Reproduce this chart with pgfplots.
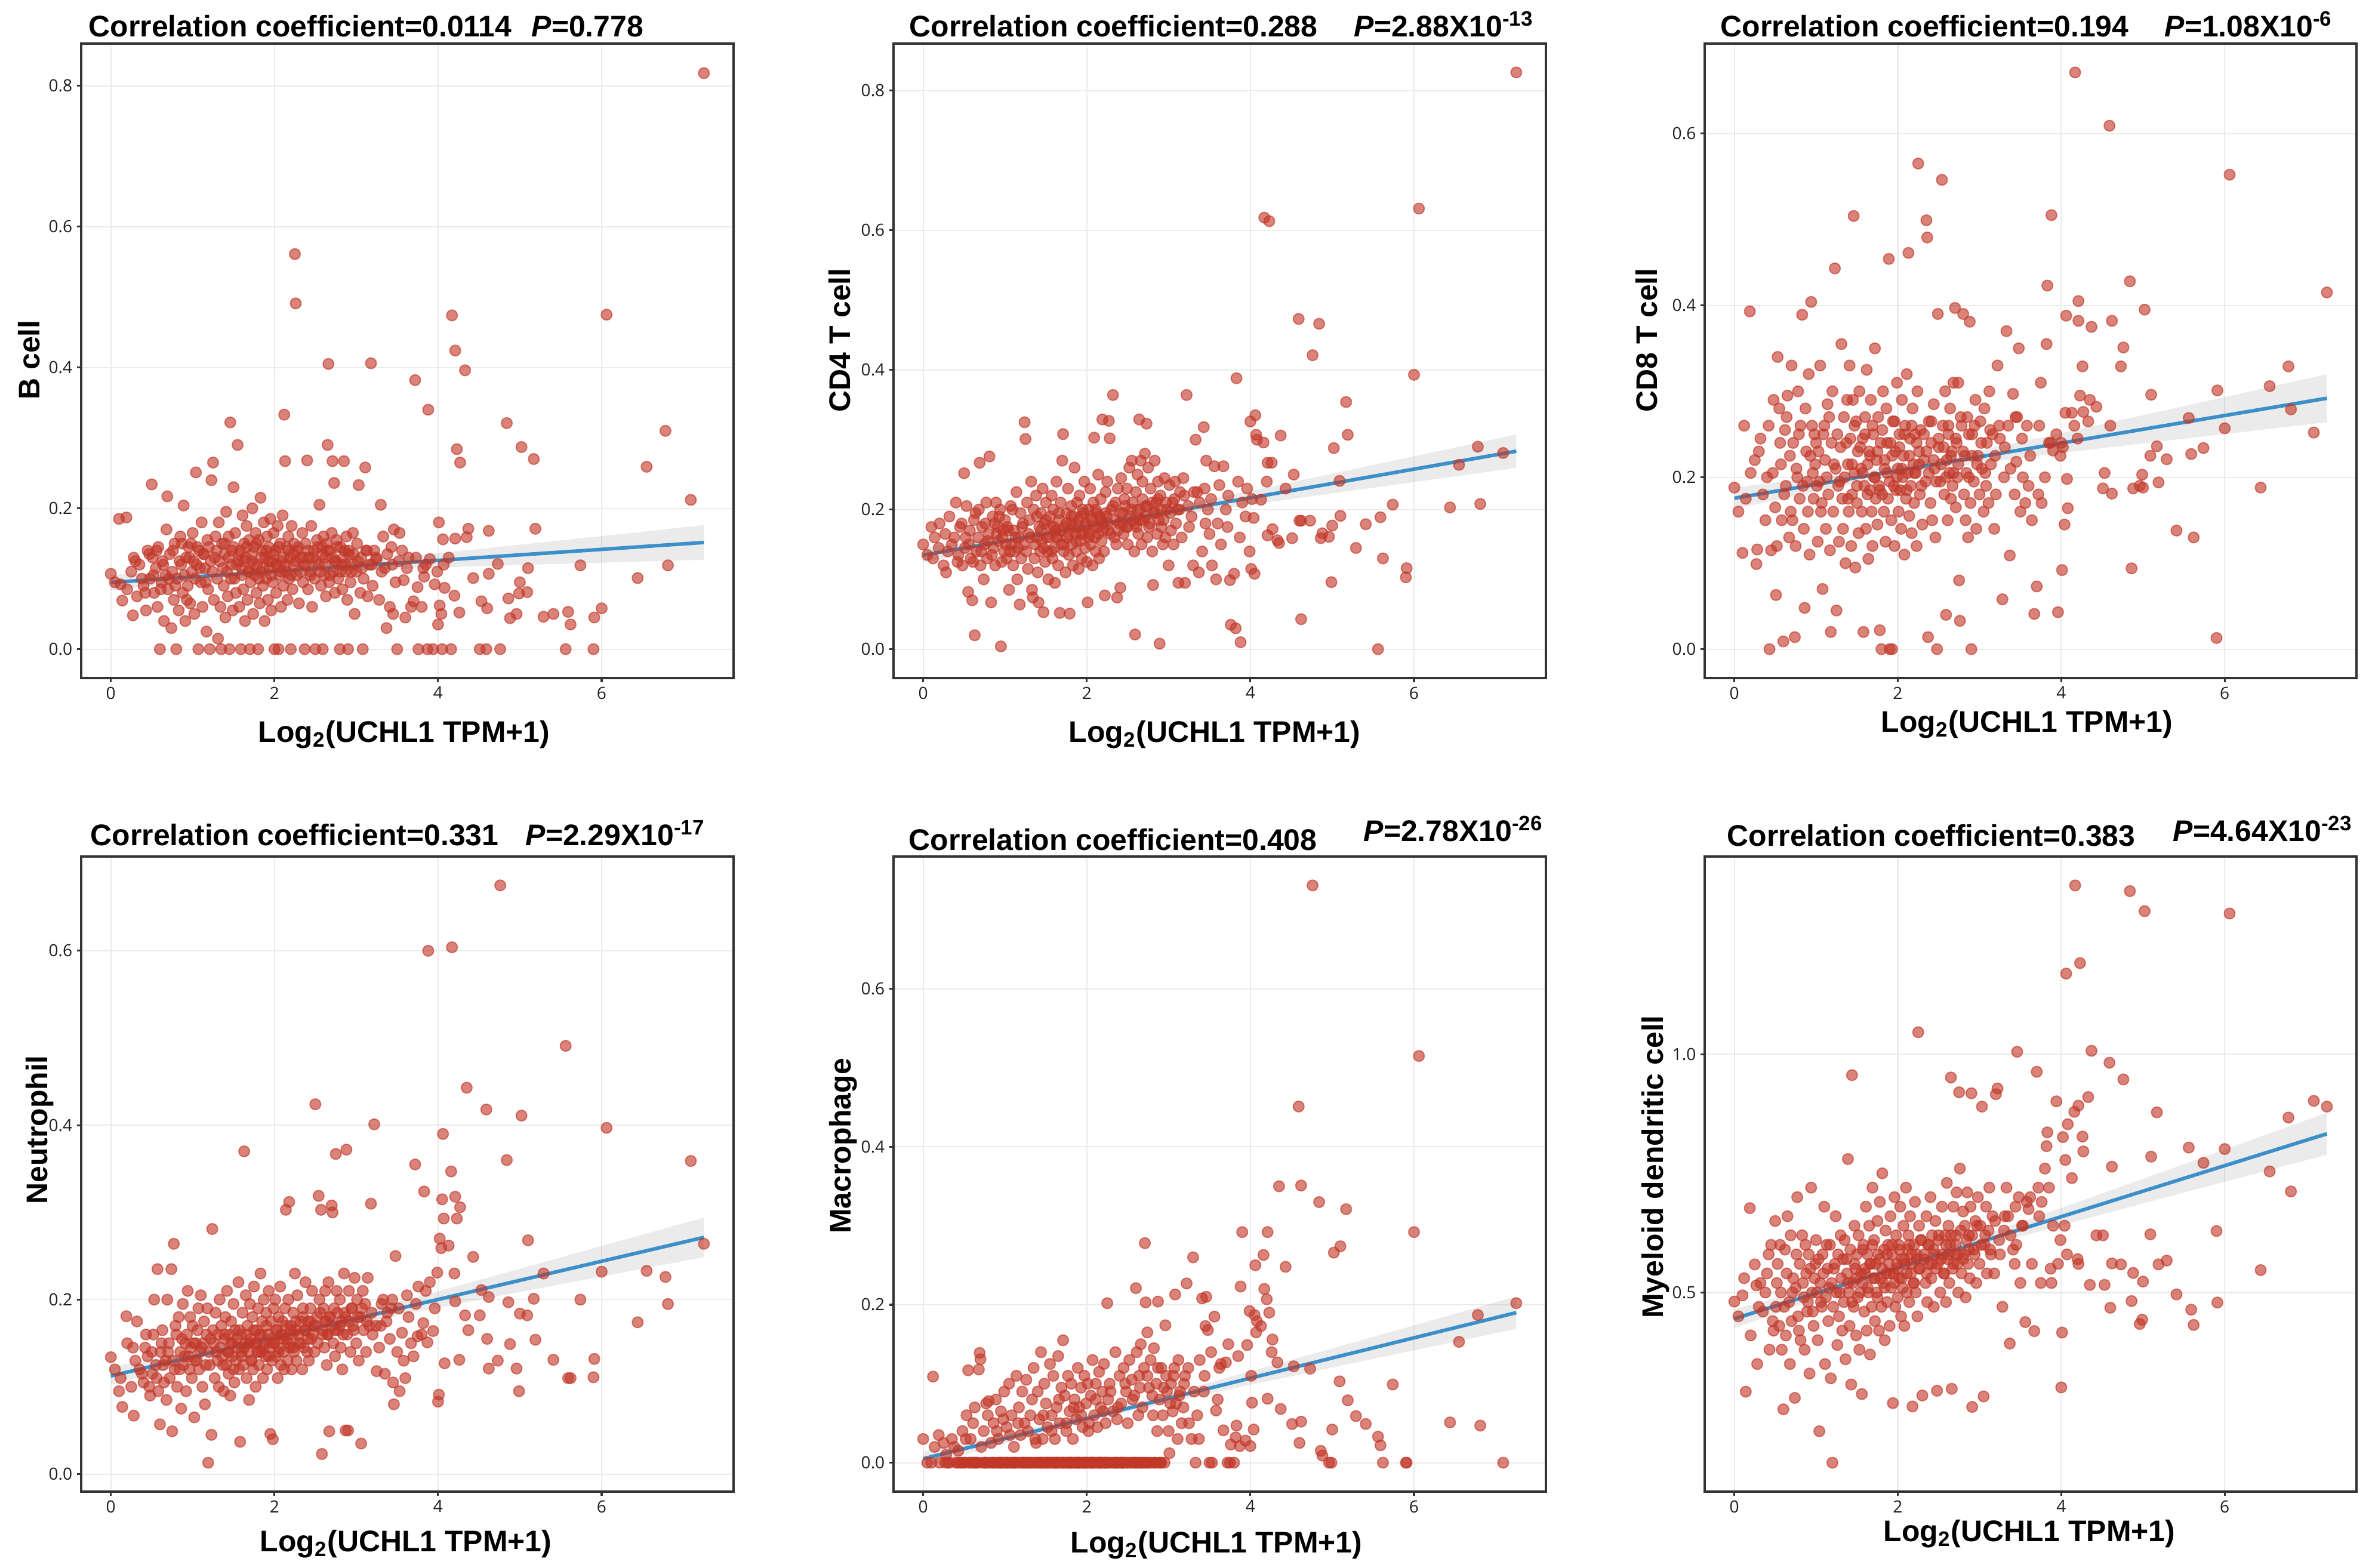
\documentclass[border=0pt]{standalone}
\usepackage{fontspec}
\setmainfont{Liberation Sans}
\newfontfamily\tickfont{Open Sans}
\usepackage{pgfplots}
\usepackage{pgfplotstable}
\pgfplotsset{compat=1.18}
\definecolor{pt}{RGB}{193,55,40}
\definecolor{ln}{RGB}{60,143,200}
\definecolor{gr92}{RGB}{235,235,235}
\definecolor{gr20}{RGB}{51,51,51}
\newcommand\ttl{\fontsize{14.2}{17}\selectfont\bfseries}

\pgfplotstableread{
x b c4 c8 ne ma dc
7.25 0.818 0.826 0.415 0.264 0.202 0.890
7.09 0.212 0.281 0.252 0.359 0.000 0.902
6.81 0.119 0.208 0.279 0.195 0.047 0.712
6.78 0.310 0.290 0.329 0.226 0.187 0.867
6.55 0.259 0.264 0.306 0.233 0.153 0.754
6.44 0.101 0.203 0.188 0.174 0.051 0.547
6.06 0.475 0.631 0.552 0.397 0.515 1.295
6.00 0.058 0.393 0.257 0.232 0.292 0.801
5.91 0.045 0.116 0.301 0.132 0.000 0.479
5.90 0.000 0.103 0.013 0.111 0.000 0.629
5.74 0.119 0.207 0.234 0.200 0.099 0.772
5.62 0.035 0.130 0.130 0.110 0.000 0.432
5.59 0.053 0.189 0.227 0.110 0.022 0.464
5.56 0.000 0.000 0.269 0.491 0.033 0.804
5.41 0.050 0.179 0.138 0.131 0.049 0.496
5.29 0.046 0.145 0.221 0.230 0.059 0.567
5.19 0.171 0.307 0.194 0.154 0.079 0.559
5.17 0.270 0.354 0.236 0.201 0.321 0.878
5.10 0.115 0.191 0.296 0.268 0.274 0.785
5.09 0.081 0.241 0.225 0.182 0.103 0.622
5.02 0.287 0.288 0.395 0.411 0.266 1.300
5.00 0.095 0.177 0.188 0.184 0.042 0.523
4.99 0.079 0.096 0.203 0.095 0.000 0.443
4.96 0.050 0.161 0.190 0.121 0.000 0.434
4.88 0.044 0.166 0.187 0.149 0.009 0.541
4.86 0.072 0.159 0.094 0.197 0.015 0.482
4.84 0.321 0.466 0.428 0.360 0.330 1.342
4.76 0.000 0.421 0.351 0.675 0.731 0.947
4.73 0.121 0.184 0.329 0.130 0.119 0.559
4.62 0.168 0.184 0.382 0.203 0.351 0.764
4.62 0.107 0.043 0.181 0.121 0.052 0.561
4.60 0.058 0.184 0.260 0.155 0.025 0.468
4.59 0.000 0.473 0.609 0.418 0.451 0.982
4.53 0.068 0.250 0.205 0.211 0.122 0.516
4.51 0.000 0.159 0.187 0.182 0.049 0.620
4.43 0.101 0.230 0.282 0.249 0.248 0.620
4.37 0.171 0.306 0.375 0.165 0.068 1.007
4.35 0.159 0.152 0.290 0.443 0.350 0.516
4.33 0.396 0.156 0.265 0.182 0.127 0.910
4.27 0.265 0.172 0.276 0.306 0.156 0.796
4.26 0.052 0.267 0.329 0.131 0.140 0.827
4.23 0.284 0.613 0.295 0.293 0.190 1.191
4.21 0.424 0.267 0.405 0.318 0.292 0.892
4.21 0.157 0.163 0.382 0.198 0.081 0.560
4.20 0.076 0.240 0.245 0.230 0.207 0.570
4.17 0.474 0.618 0.671 0.604 0.220 1.354
4.16 0.000 0.296 0.260 0.347 0.263 0.879
4.13 0.130 0.214 0.275 0.262 0.173 0.740
4.08 0.087 0.300 0.164 0.127 0.179 0.853
4.07 0.120 0.307 0.198 0.293 0.165 0.580
4.06 0.156 0.335 0.388 0.390 0.250 1.169
4.05 0.000 0.108 0.275 0.315 0.187 0.778
4.04 0.050 0.188 0.145 0.259 0.042 0.640
4.02 0.062 0.215 0.235 0.270 0.076 0.826
4.01 0.180 0.115 0.092 0.091 0.110 0.416
4.00 0.035 0.326 0.240 0.083 0.021 0.301
3.99 0.110 0.140 0.225 0.231 0.192 0.610
3.96 0.092 0.230 0.043 0.190 0.149 0.560
3.94 0.000 0.190 0.250 0.164 0.028 0.901
3.90 0.128 0.210 0.231 0.220 0.292 0.640
3.88 0.340 0.010 0.505 0.600 0.223 0.520
3.87 0.000 0.160 0.240 0.151 0.021 0.550
3.83 0.103 0.388 0.423 0.324 0.047 0.836
3.82 0.115 0.030 0.355 0.173 0.032 0.807
3.80 0.060 0.108 0.200 0.160 0.000 0.760
3.76 0.000 0.035 0.170 0.215 0.023 0.690
3.75 0.088 0.099 0.310 0.158 0.000 0.520
3.72 0.382 0.175 0.180 0.355 0.000 0.720
3.70 0.068 0.200 0.073 0.135 0.127 0.963
3.67 0.060 0.262 0.041 0.150 0.041 0.419
3.64 0.130 0.150 0.150 0.180 0.125 0.560
3.60 0.045 0.180 0.190 0.110 0.080 0.675
3.58 0.098 0.100 0.260 0.130 0.066 0.690
3.56 0.140 0.262 0.170 0.162 0.185 0.438
3.53 0.165 0.120 0.200 0.095 0.000 0.640
3.50 0.000 0.165 0.160 0.140 0.000 0.520
3.48 0.095 0.200 0.350 0.250 0.168 0.700
3.46 0.170 0.270 0.270 0.080 0.210 1.005
3.45 0.050 0.180 0.218 0.105 0.173 0.600
3.43 0.145 0.318 0.180 0.190 0.090 0.560
3.41 0.060 0.140 0.297 0.155 0.208 0.590
3.37 0.030 0.110 0.109 0.175 0.030 0.393
3.35 0.115 0.225 0.260 0.115 0.060 0.660
3.33 0.160 0.300 0.370 0.200 0.000 0.720
3.30 0.205 0.120 0.200 0.170 0.260 0.630
3.28 0.070 0.190 0.058 0.145 0.030 0.470
3.25 0.128 0.175 0.245 0.118 0.050 0.580
3.22 0.140 0.364 0.330 0.401 0.227 0.928
3.20 0.090 0.095 0.180 0.160 0.110 0.916
3.18 0.406 0.245 0.140 0.310 0.070 0.540
0.00 0.107 0.150 0.188 0.134 0.030 0.481
0.05 0.095 0.135 0.160 0.120 0.000 0.450
0.10 0.185 0.175 0.112 0.095 0.000 0.494
0.12 0.092 0.130 0.260 0.110 0.109 0.530
0.14 0.069 0.160 0.175 0.077 0.020 0.292
0.19 0.187 0.145 0.393 0.181 0.035 0.677
0.20 0.085 0.180 0.205 0.150 0.000 0.410
0.25 0.110 0.120 0.220 0.100 0.025 0.559
0.27 0.048 0.165 0.099 0.145 0.000 0.515
0.28 0.130 0.110 0.116 0.067 0.010 0.350
0.32 0.075 0.190 0.245 0.175 0.000 0.520
0.35 0.120 0.150 0.180 0.120 0.030 0.460
0.40 0.090 0.210 0.200 0.105 0.000 0.540
0.43 0.055 0.135 0.000 0.160 0.015 0.380
0.45 0.140 0.175 0.115 0.135 0.000 0.600
0.48 0.100 0.120 0.290 0.090 0.040 0.420
0.50 0.234 0.252 0.165 0.140 0.000 0.650
0.51 0.130 0.145 0.063 0.115 0.000 0.470
0.53 0.080 0.205 0.340 0.200 0.060 0.560
0.55 0.115 0.082 0.280 0.125 0.117 0.430
0.57 0.060 0.170 0.215 0.235 0.000 0.500
0.58 0.145 0.130 0.150 0.095 0.030 0.380
0.60 0.000 0.070 0.009 0.057 0.000 0.255
0.62 0.095 0.185 0.255 0.150 0.000 0.590
0.63 0.125 0.020 0.190 0.165 0.070 0.410
0.65 0.040 0.140 0.295 0.105 0.000 0.660
0.67 0.105 0.160 0.130 0.130 0.000 0.480
0.68 0.170 0.200 0.225 0.085 0.118 0.350
0.69 0.217 0.267 0.160 0.200 0.139 0.620
0.70 0.085 0.120 0.330 0.140 0.131 0.440
0.72 0.135 0.175 0.240 0.110 0.000 0.530
0.74 0.030 0.100 0.014 0.235 0.040 0.279
0.75 0.110 0.150 0.120 0.049 0.000 0.510
0.77 0.070 0.210 0.200 0.264 0.075 0.700
0.78 0.150 0.130 0.300 0.120 0.000 0.450
0.80 0.000 0.165 0.175 0.160 0.078 0.560
0.81 0.100 0.276 0.260 0.100 0.000 0.400
0.83 0.055 0.067 0.389 0.180 0.025 0.620
0.85 0.160 0.190 0.140 0.140 0.000 0.490
0.86 0.120 0.145 0.048 0.075 0.050 0.380
0.88 0.080 0.120 0.230 0.195 0.000 0.540
0.89 0.204 0.210 0.195 0.125 0.080 0.460
0.91 0.040 0.175 0.320 0.150 0.000 0.580
0.92 0.130 0.155 0.110 0.095 0.030 0.330
0.94 0.090 0.200 0.404 0.210 0.000 0.720
0.95 0.145 0.004 0.260 0.135 0.065 0.500
0.97 0.065 0.160 0.175 0.180 0.000 0.430
0.99 0.110 0.140 0.215 0.110 0.090 0.560
1.00 0.165 0.185 0.240 0.170 0.000 0.610
1.02 0.050 0.130 0.125 0.065 0.045 0.400
1.04 0.251 0.170 0.195 0.150 0.000 0.209
1.05 0.120 0.085 0.330 0.130 0.100 0.520
1.07 0.000 0.205 0.170 0.190 0.000 0.470
1.08 0.140 0.150 0.070 0.120 0.060 0.580
1.10 0.095 0.120 0.260 0.205 0.000 0.680
1.11 0.180 0.170 0.220 0.145 0.020 0.350
1.12 0.060 0.140 0.140 0.100 0.000 0.490
1.14 0.135 0.225 0.285 0.175 0.110 0.550
1.15 0.115 0.100 0.180 0.080 0.000 0.440
1.17 0.025 0.160 0.115 0.160 0.070 0.600
1.18 0.155 0.064 0.020 0.190 0.000 0.320
1.19 0.085 0.195 0.240 0.013 0.035 0.520
1.20 0.145 0.130 0.300 0.140 0.000 0.143
1.21 0.000 0.175 0.160 0.125 0.090 0.470
1.23 0.240 0.150 0.443 0.045 0.000 0.560
1.24 0.110 0.325 0.210 0.281 0.050 0.660
1.25 0.265 0.301 0.045 0.165 0.000 0.500
1.26 0.070 0.140 0.250 0.150 0.105 0.390
1.27 0.130 0.210 0.190 0.110 0.000 0.580
1.28 0.160 0.115 0.125 0.185 0.040 0.450
1.30 0.100 0.185 0.235 0.130 0.000 0.620
1.31 0.015 0.160 0.355 0.160 0.060 0.530
1.32 0.180 0.240 0.175 0.100 0.000 0.420
1.33 0.125 0.085 0.140 0.200 0.080 0.570
1.34 0.060 0.074 0.270 0.145 0.000 0.480
1.35 0.000 0.200 0.200 0.170 0.120 0.610
1.36 0.150 0.130 0.100 0.135 0.000 0.360
1.38 0.090 0.220 0.290 0.095 0.025 0.540
1.39 0.135 0.160 0.215 0.155 0.000 0.780
1.40 0.045 0.110 0.160 0.180 0.090 0.500
1.41 0.195 0.067 0.330 0.125 0.000 0.430
1.42 0.110 0.175 0.245 0.210 0.055 0.590
1.43 0.075 0.140 0.120 0.140 0.000 0.307
1.44 0.160 0.195 0.180 0.115 0.140 0.956
1.45 0.000 0.155 0.290 0.160 0.000 0.520
1.46 0.322 0.230 0.504 0.090 0.030 0.470
1.47 0.120 0.053 0.205 0.175 0.000 0.640
1.48 0.140 0.180 0.095 0.135 0.100 0.550
1.49 0.055 0.125 0.265 0.150 0.000 0.410
1.50 0.230 0.210 0.170 0.195 0.075 0.580
1.51 0.100 0.160 0.230 0.105 0.000 0.490
1.52 0.165 0.140 0.135 0.165 0.045 0.620
1.53 0.080 0.100 0.300 0.130 0.000 0.380
1.55 0.290 0.190 0.210 0.145 0.125 0.540
1.56 0.125 0.175 0.160 0.220 0.000 0.287
1.57 0.060 0.220 0.245 0.120 0.060 0.520
1.58 0.140 0.130 0.020 0.037 0.000 0.600
1.59 0.000 0.200 0.190 0.160 0.110 0.460
1.60 0.115 0.145 0.270 0.140 0.000 0.550
1.61 0.190 0.095 0.140 0.185 0.030 0.680
1.62 0.085 0.170 0.325 0.125 0.000 0.420
1.63 0.150 0.240 0.215 0.370 0.070 0.580
1.64 0.040 0.160 0.105 0.150 0.000 0.500
1.65 0.130 0.120 0.230 0.205 0.135 0.640
1.66 0.175 0.185 0.185 0.110 0.000 0.370
1.67 0.070 0.052 0.290 0.170 0.050 0.560
1.68 0.110 0.210 0.160 0.140 0.000 0.470
1.69 0.155 0.150 0.120 0.085 0.095 0.720
1.70 0.000 0.270 0.250 0.195 0.000 0.530
1.71 0.095 0.308 0.200 0.155 0.155 0.610
1.72 0.125 0.140 0.350 0.130 0.000 0.440
1.73 0.200 0.175 0.175 0.180 0.085 0.560
1.74 0.050 0.110 0.220 0.120 0.000 0.500
1.75 0.145 0.195 0.145 0.215 0.040 0.650
1.76 0.105 0.160 0.270 0.150 0.000 0.580
1.77 0.165 0.230 0.190 0.100 0.110 0.420
1.78 0.080 0.135 0.022 0.165 0.000 0.690
1.79 0.120 0.051 0.240 0.140 0.065 0.530
1.80 0.000 0.180 0.000 0.190 0.000 0.470
1.81 0.155 0.205 0.180 0.125 0.100 0.750
1.82 0.065 0.150 0.300 0.160 0.000 0.520
1.83 0.215 0.120 0.160 0.230 0.030 0.590
1.84 0.110 0.190 0.220 0.140 0.000 0.400
1.85 0.140 0.260 0.125 0.175 0.080 0.630
1.86 0.090 0.165 0.280 0.110 0.000 0.540
1.87 0.180 0.140 0.205 0.200 0.055 0.480
1.88 0.040 0.210 0.175 0.150 0.000 0.600
1.89 0.130 0.175 0.454 0.135 0.120 0.560
1.90 0.100 0.115 0.000 0.185 0.000 0.430
1.91 0.160 0.220 0.240 0.120 0.070 0.660
1.92 0.070 0.155 0.150 0.160 0.000 0.510
1.93 0.145 0.190 0.000 0.210 0.095 0.580
1.94 0.115 0.130 0.265 0.145 0.000 0.268
1.95 0.185 0.200 0.190 0.046 0.045 0.540
1.96 0.055 0.165 0.120 0.175 0.000 0.700
1.97 0.125 0.240 0.230 0.130 0.110 0.470
1.98 0.095 0.145 0.185 0.040 0.000 0.620
1.99 0.165 0.180 0.310 0.190 0.075 0.550
2.00 0.000 0.125 0.210 0.150 0.000 0.490
2.01 0.140 0.067 0.160 0.200 0.100 0.600
2.02 0.080 0.200 0.250 0.135 0.000 0.530
2.03 0.120 0.165 0.185 0.165 0.050 0.680
2.04 0.175 0.230 0.140 0.110 0.000 0.450
2.05 0.000 0.150 0.290 0.180 0.085 0.570
2.06 0.105 0.185 0.200 0.145 0.000 0.510
2.07 0.150 0.120 0.225 0.215 0.130 0.640
2.08 0.060 0.210 0.110 0.125 0.000 0.430
2.09 0.125 0.303 0.260 0.160 0.060 0.560
2.10 0.190 0.160 0.175 0.175 0.000 0.720
2.11 0.090 0.140 0.320 0.140 0.100 0.500
2.12 0.333 0.195 0.205 0.120 0.000 0.590
2.13 0.267 0.175 0.461 0.190 0.045 0.620
2.14 0.110 0.250 0.155 0.303 0.000 0.480
2.15 0.145 0.130 0.245 0.155 0.115 0.660
2.16 0.070 0.190 0.190 0.130 0.000 0.540
2.17 0.160 0.215 0.135 0.200 0.070 0.580
2.18 0.100 0.155 0.280 0.312 0.000 0.261
2.19 0.130 0.329 0.215 0.145 0.090 0.520
2.20 0.000 0.180 0.170 0.170 0.000 0.600
2.21 0.175 0.140 0.250 0.120 0.125 0.690
2.22 0.085 0.077 0.205 0.160 0.000 0.500
2.23 0.120 0.225 0.120 0.185 0.050 0.570
2.24 0.150 0.190 0.300 0.140 0.000 0.450
2.25 0.561 0.240 0.565 0.230 0.202 1.046
2.26 0.491 0.170 0.230 0.165 0.080 0.640
2.27 0.105 0.327 0.180 0.130 0.000 0.550
2.28 0.140 0.302 0.255 0.205 0.100 0.610
2.30 0.065 0.200 0.145 0.150 0.000 0.284
2.32 0.130 0.364 0.220 0.175 0.065 0.580
2.34 0.165 0.160 0.195 0.120 0.000 0.520
2.35 0.095 0.210 0.499 0.190 0.140 0.660
2.36 0.120 0.150 0.479 0.145 0.000 0.480
2.37 0.000 0.074 0.014 0.165 0.055 0.600
2.38 0.150 0.230 0.265 0.220 0.000 0.560
2.40 0.268 0.180 0.170 0.140 0.110 0.700
2.41 0.085 0.088 0.240 0.175 0.000 0.530
2.42 0.130 0.245 0.150 0.130 0.075 0.620
2.44 0.110 0.195 0.285 0.190 0.000 0.470
2.45 0.175 0.165 0.210 0.155 0.120 0.580
2.46 0.060 0.215 0.130 0.210 0.000 0.650
2.48 0.140 0.175 0.000 0.170 0.090 0.294
2.49 0.100 0.230 0.390 0.140 0.000 0.560
2.50 0.000 0.150 0.235 0.424 0.050 0.610
2.52 0.155 0.260 0.195 0.180 0.130 0.500
2.54 0.120 0.200 0.546 0.319 0.000 0.680
2.55 0.205 0.270 0.260 0.200 0.105 0.580
2.57 0.090 0.185 0.180 0.303 0.000 0.540
2.58 0.145 0.140 0.300 0.023 0.085 0.620
2.59 0.000 0.021 0.040 0.160 0.000 0.480
2.60 0.160 0.225 0.220 0.190 0.221 0.730
2.61 0.105 0.175 0.150 0.145 0.140 0.570
2.62 0.130 0.250 0.250 0.210 0.000 0.640
2.63 0.075 0.165 0.205 0.175 0.060 0.520
2.64 0.150 0.329 0.280 0.125 0.110 0.600
2.65 0.290 0.200 0.175 0.160 0.000 0.951
2.66 0.405 0.270 0.230 0.220 0.150 0.298
2.67 0.095 0.150 0.190 0.049 0.000 0.550
2.68 0.140 0.240 0.310 0.180 0.070 0.680
2.70 0.165 0.185 0.397 0.308 0.120 0.580
2.71 0.267 0.280 0.165 0.300 0.278 0.620
2.72 0.110 0.205 0.240 0.150 0.203 0.710
2.73 0.236 0.323 0.200 0.190 0.000 0.560
2.74 0.080 0.160 0.310 0.135 0.165 0.500
2.75 0.125 0.260 0.080 0.367 0.000 0.920
2.76 0.155 0.175 0.033 0.210 0.095 0.760
2.78 0.100 0.230 0.260 0.165 0.130 0.540
2.80 0.000 0.140 0.390 0.200 0.000 0.670
2.81 0.145 0.092 0.180 0.145 0.060 0.580
2.82 0.120 0.195 0.225 0.175 0.145 0.640
2.83 0.085 0.270 0.150 0.120 0.000 0.490
2.85 0.267 0.210 0.270 0.230 0.100 0.710
2.86 0.140 0.165 0.130 0.185 0.040 0.560
2.87 0.110 0.240 0.200 0.050 0.204 0.620
2.88 0.160 0.185 0.381 0.372 0.000 0.530
2.89 0.070 0.008 0.170 0.160 0.080 0.680
2.90 0.000 0.220 0.000 0.050 0.000 0.918
2.91 0.135 0.175 0.250 0.210 0.120 0.260
2.93 0.095 0.150 0.195 0.140 0.060 0.590
2.95 0.120 0.245 0.290 0.190 0.000 0.650
2.96 0.165 0.160 0.140 0.170 0.174 0.520
2.98 0.050 0.200 0.225 0.225 0.090 0.700
3.00 0.110 0.120 0.180 0.150 0.040 0.560
3.01 0.150 0.235 0.265 0.200 0.012 0.640
3.03 0.233 0.170 0.210 0.130 0.100 0.890
3.05 0.080 0.210 0.160 0.180 0.065 0.282
3.06 0.130 0.150 0.280 0.035 0.110 0.600
3.08 0.000 0.240 0.190 0.210 0.213 0.680
3.09 0.100 0.180 0.240 0.165 0.075 0.540
3.11 0.258 0.200 0.170 0.195 0.030 0.630
3.12 0.140 0.095 0.300 0.140 0.130 0.720
3.14 0.075 0.225 0.215 0.225 0.090 0.580
3.16 0.120 0.160 0.250 0.170 0.050 0.660
0.30 0.125 0.140 0.230 0.130 0.000 0.470
0.38 0.100 0.160 0.150 0.115 0.020 0.500
0.42 0.080 0.125 0.260 0.145 0.000 0.580
0.47 0.135 0.180 0.205 0.100 0.000 0.440
0.52 0.105 0.160 0.120 0.160 0.030 0.520
0.56 0.140 0.150 0.240 0.110 0.000 0.600
0.61 0.085 0.125 0.180 0.140 0.050 0.470
0.64 0.120 0.195 0.270 0.125 0.000 0.540
0.71 0.100 0.140 0.150 0.150 0.020 0.500
0.76 0.140 0.180 0.210 0.130 0.000 0.580
0.79 0.090 0.155 0.250 0.170 0.060 0.420
0.84 0.125 0.135 0.190 0.120 0.000 0.520
0.87 0.150 0.180 0.280 0.155 0.000 0.600
0.90 0.105 0.165 0.160 0.135 0.040 0.480
0.93 0.070 0.190 0.225 0.160 0.000 0.550
0.96 0.130 0.125 0.205 0.120 0.000 0.460
0.98 0.150 0.170 0.250 0.145 0.055 0.530
1.01 0.125 0.150 0.190 0.150 0.000 0.500
1.03 0.100 0.175 0.230 0.130 0.000 0.570
1.06 0.145 0.140 0.160 0.165 0.035 0.480
1.09 0.115 0.200 0.250 0.140 0.000 0.540
1.13 0.135 0.160 0.200 0.150 0.000 0.600
1.16 0.095 0.145 0.270 0.125 0.050 0.510
1.22 0.125 0.180 0.215 0.155 0.000 0.550
1.29 0.140 0.165 0.195 0.140 0.000 0.500
1.37 0.115 0.150 0.240 0.125 0.030 0.570
1.39 0.150 0.190 0.175 0.160 0.000 0.520
1.44 0.130 0.170 0.215 0.140 0.000 0.480
1.47 0.100 0.145 0.260 0.150 0.060 0.560
1.50 0.145 0.185 0.190 0.120 0.000 0.530
1.54 0.120 0.160 0.235 0.155 0.000 0.500
1.57 0.135 0.140 0.205 0.165 0.040 0.590
1.60 0.105 0.175 0.250 0.135 0.000 0.540
1.63 0.125 0.160 0.180 0.145 0.000 0.510
1.66 0.145 0.195 0.225 0.160 0.080 0.560
1.69 0.110 0.170 0.260 0.150 0.000 0.600
1.72 0.135 0.150 0.200 0.130 0.000 0.530
1.75 0.120 0.180 0.230 0.165 0.050 0.490
1.78 0.150 0.165 0.185 0.150 0.000 0.570
1.81 0.100 0.190 0.255 0.140 0.000 0.550
1.84 0.130 0.175 0.210 0.160 0.070 0.510
1.87 0.115 0.155 0.240 0.145 0.000 0.580
1.90 0.140 0.185 0.195 0.170 0.000 0.540
1.93 0.125 0.165 0.225 0.135 0.060 0.600
1.96 0.105 0.195 0.265 0.155 0.000 0.520
1.99 0.135 0.175 0.200 0.150 0.000 0.560
2.02 0.120 0.160 0.235 0.165 0.040 0.590
2.05 0.145 0.190 0.210 0.140 0.000 0.530
2.08 0.110 0.175 0.250 0.160 0.000 0.570
2.11 0.130 0.200 0.185 0.155 0.080 0.540
2.14 0.120 0.165 0.225 0.170 0.000 0.600
2.17 0.140 0.185 0.260 0.150 0.000 0.560
2.20 0.105 0.170 0.205 0.165 0.065 0.520
2.23 0.135 0.195 0.240 0.145 0.000 0.580
2.26 0.125 0.180 0.215 0.175 0.000 0.550
2.29 0.145 0.165 0.190 0.160 0.090 0.610
2.32 0.110 0.205 0.250 0.150 0.000 0.570
2.35 0.130 0.185 0.230 0.180 0.000 0.540
2.38 0.120 0.170 0.205 0.165 0.070 0.600
2.41 0.140 0.195 0.265 0.155 0.000 0.560
2.44 0.105 0.180 0.220 0.175 0.000 0.590
2.47 0.130 0.205 0.195 0.160 0.100 0.550
2.50 0.125 0.175 0.245 0.170 0.000 0.620
2.53 0.145 0.190 0.215 0.150 0.000 0.570
2.56 0.110 0.210 0.235 0.185 0.080 0.540
2.59 0.135 0.180 0.200 0.165 0.000 0.600
2.62 0.120 0.200 0.260 0.175 0.000 0.580
2.65 0.140 0.185 0.225 0.160 0.095 0.620
2.68 0.105 0.215 0.205 0.180 0.000 0.560
2.71 0.130 0.190 0.245 0.170 0.000 0.600
2.74 0.125 0.205 0.215 0.165 0.110 0.580
2.77 0.145 0.180 0.270 0.185 0.000 0.630
2.80 0.110 0.210 0.230 0.170 0.085 0.570
2.84 0.130 0.195 0.205 0.160 0.000 0.610
2.87 0.120 0.215 0.250 0.180 0.120 0.590
2.91 0.140 0.200 0.225 0.175 0.000 0.620
2.94 0.110 0.185 0.260 0.190 0.095 0.580
2.97 0.135 0.210 0.215 0.165 0.110 0.640
3.02 0.125 0.195 0.240 0.180 0.075 0.600
3.07 0.115 0.215 0.205 0.190 0.120 0.620
3.13 0.140 0.200 0.255 0.175 0.085 0.590
3.19 0.120 0.220 0.225 0.185 0.100 0.650
3.24 0.130 0.205 0.260 0.170 0.120 0.610
3.31 0.110 0.225 0.235 0.195 0.090 0.660
3.38 0.135 0.210 0.210 0.185 0.130 0.620
3.44 0.120 0.230 0.270 0.200 0.110 0.680
3.52 0.125 0.215 0.245 0.190 0.140 0.640
3.62 0.115 0.235 0.225 0.205 0.120 0.700
3.73 0.130 0.220 0.260 0.195 0.150 0.660
3.85 0.120 0.240 0.240 0.210 0.135 0.720
}\datatab

\pgfplotsset{
  panel/.style={scale only axis, width=10.93cm, height=10.63cm, anchor=south west,
    xmin=-0.3625, xmax=7.6125, xtick={0,2,4,6}, xticklabels={0,2,4,6},
    grid=major, grid style={gr92, line width=0.6pt},
    axis line style={gr20, line width=0.9pt},
    tick style={gr20, line width=0.9pt}, major tick length=0.07cm, tick align=outside,
    xtick pos=bottom, ytick pos=left,
    ticklabel style={font=\tickfont\fontsize{8}{9}\selectfont, text=black!88},
    xticklabel style={anchor=north, inner sep=0pt, yshift=-0.07cm},
    yticklabel style={anchor=east, inner sep=0pt, xshift=-0.07cm}},
  pts/.style={only marks, mark=*, mark size=0.09cm,
    mark options={fill=pt, draw=pt, fill opacity=0.62, draw opacity=0.62, line width=0.02cm}},
  band/.style={fill=black!40, fill opacity=0.2, draw=none},
  fit/.style={ln, line width=1.7pt}
}

\begin{document}
\begin{tikzpicture}
\path[use as bounding box] (0,0) rectangle (39.74,26.27);

% B cell
\begin{axis}[panel, at={(1.36cm,14.91cm)}, ymin=-0.041, ymax=0.860,
  ytick={0,0.2,0.4,0.6,0.8}, yticklabels={0.0,0.2,0.4,0.6,0.8}]
\addplot[pts] table[x=x, y=b] {\datatab};
\addplot[band] coordinates {(0,0.1057) (1,0.1096) (2,0.1153) (3,0.1247) (4,0.1363) (5,0.1483) (6,0.1606) (7.25,0.1761)
 (7.25,0.1269) (6,0.1228) (5,0.1195) (4,0.1159) (3,0.1117) (2,0.1055) (1,0.0954) (0,0.0837)} -- cycle;
\addplot[fit] coordinates {(0,0.0947) (7.25,0.1515)};
\end{axis}

% CD4 T cell
\begin{axis}[panel, at={(14.97cm,14.91cm)}, ymin=-0.0413, ymax=0.8673,
  ytick={0,0.2,0.4,0.6,0.8}, yticklabels={0.0,0.2,0.4,0.6,0.8}]
\addplot[pts] table[x=x, y=c4] {\datatab};
\addplot[band] coordinates {(0,0.1455) (1,0.1621) (2,0.1805) (3,0.2026) (4,0.2267) (5,0.2514) (6,0.2763) (7.25,0.3075)
 (7.25,0.2595) (6,0.2393) (5,0.2232) (4,0.2069) (3,0.1900) (2,0.1709) (1,0.1483) (0,0.1239)} -- cycle;
\addplot[fit] coordinates {(0,0.1347) (7.25,0.2835)};
\end{axis}

% CD8 T cell
\begin{axis}[panel, at={(28.56cm,14.91cm)}, width=10.92cm, ymin=-0.0336, ymax=0.7046,
  ytick={0,0.2,0.4,0.6}, yticklabels={0.0,0.2,0.4,0.6}]
\addplot[pts] table[x=x, y=c8] {\datatab};
\addplot[band] coordinates {(0,0.1881) (1,0.1997) (2,0.2133) (3,0.2311) (4,0.2514) (5,0.2722) (6,0.2933) (7.25,0.3199)
 (7.25,0.2639) (6,0.2503) (5,0.2394) (4,0.2282) (3,0.2163) (2,0.2021) (1,0.1835) (0,0.1631)} -- cycle;
\addplot[fit] coordinates {(0,0.1756) (7.25,0.2919)};
\end{axis}

% Neutrophil
\begin{axis}[panel, at={(1.36cm,1.28cm)}, height=10.64cm, ymin=-0.0201, ymax=0.7081,
  ytick={0,0.2,0.4,0.6}, yticklabels={0.0,0.2,0.4,0.6}]
\addplot[pts] table[x=x, y=ne] {\datatab};
\addplot[band] coordinates {(0,0.1227) (1,0.1410) (2,0.1608) (3,0.1842) (4,0.2095) (5,0.2354) (6,0.2615) (7.25,0.2941)
 (7.25,0.2487) (6,0.2265) (5,0.2088) (4,0.1907) (3,0.1722) (2,0.1518) (1,0.1278) (0,0.1023)} -- cycle;
\addplot[fit] coordinates {(0,0.1125) (7.25,0.2714)};
\end{axis}

% Macrophage
\begin{axis}[panel, at={(14.97cm,1.28cm)}, height=10.64cm, ymin=-0.0366, ymax=0.7676,
  ytick={0,0.2,0.4,0.6}, yticklabels={0.0,0.2,0.4,0.6}]
\addplot[pts] table[x=x, y=ma] {\datatab};
\addplot[band] coordinates {(0,0.0142) (1,0.0365) (2,0.0601) (3,0.0870) (4,0.1156) (5,0.1447) (6,0.1739) (7.25,0.2106)
 (7.25,0.1694) (6,0.1423) (5,0.1205) (4,0.0986) (3,0.0762) (2,0.0519) (1,0.0245) (0,-0.0042)} -- cycle;
\addplot[fit] coordinates {(0,0.005) (7.25,0.19)};
\end{axis}

% Myeloid dendritic cell
\begin{axis}[panel, at={(28.56cm,1.28cm)}, width=10.92cm, height=10.64cm, ymin=0.0824, ymax=1.4146,
  ytick={0.5,1.0}, yticklabels={0.5,1.0}]
\addplot[pts] table[x=x, y=dc] {\datatab};
\addplot[band] coordinates {(0,0.4647) (1,0.5112) (2,0.5608) (3,0.6172) (4,0.6773) (5,0.7384) (6,0.7999) (7.25,0.877)
 (7.25,0.789) (6,0.7323) (5,0.6868) (4,0.6409) (3,0.5940) (2,0.5432) (1,0.4858) (0,0.4253)} -- cycle;
\addplot[fit] coordinates {(0,0.445) (7.25,0.833)};
\end{axis}

% titles
\node[anchor=base west, inner sep=0] at (1.48,25.65) {\ttl Correlation coefficient=0.0114};
\node[anchor=base west, inner sep=0] at (8.90,25.65) {\ttl\textit{P}=0.778};
\node[anchor=base west, inner sep=0] at (15.23,25.65) {\ttl Correlation coefficient=0.288};
\node[anchor=base west, inner sep=0] at (22.68,25.65) {\ttl\textit{P}=2.88X10\textsuperscript{-13}};
\node[anchor=base west, inner sep=0] at (28.82,25.65) {\ttl Correlation coefficient=0.194};
\node[anchor=base west, inner sep=0] at (36.26,25.65) {\ttl\textit{P}=1.08X10\textsuperscript{-6}};
\node[anchor=base west, inner sep=0] at (1.51,12.10) {\ttl Correlation coefficient=0.331};
\node[anchor=base west, inner sep=0] at (8.80,12.10) {\ttl\textit{P}=2.29X10\textsuperscript{-17}};
\node[anchor=base west, inner sep=0] at (15.22,12.02) {\ttl Correlation coefficient=0.408};
\node[anchor=base west, inner sep=0] at (22.84,12.17) {\ttl\textit{P}=2.78X10\textsuperscript{-26}};
\node[anchor=base west, inner sep=0] at (28.93,12.09) {\ttl Correlation coefficient=0.383};
\node[anchor=base west, inner sep=0] at (36.40,12.17) {\ttl\textit{P}=4.64X10\textsuperscript{-23}};

% x titles
\node[anchor=base, inner sep=0] at (6.77,13.83) {\ttl Log\textsubscript{2}(UCHL1 TPM+1)};
\node[anchor=base, inner sep=0] at (20.35,13.83) {\ttl Log\textsubscript{2}(UCHL1 TPM+1)};
\node[anchor=base, inner sep=0] at (33.96,14.00) {\ttl Log\textsubscript{2}(UCHL1 TPM+1)};
\node[anchor=base, inner sep=0] at (6.80,0.27) {\ttl Log\textsubscript{2}(UCHL1 TPM+1)};
\node[anchor=base, inner sep=0] at (20.38,0.25) {\ttl Log\textsubscript{2}(UCHL1 TPM+1)};
\node[anchor=base, inner sep=0] at (34.00,0.44) {\ttl Log\textsubscript{2}(UCHL1 TPM+1)};

% y titles
\node[rotate=90, anchor=base, inner sep=0] at (0.66,20.24) {\ttl B cell};
\node[rotate=90, anchor=base, inner sep=0] at (14.24,20.57) {\ttl CD4 T cell};
\node[rotate=90, anchor=base, inner sep=0] at (27.76,20.57) {\ttl CD8 T cell};
\node[rotate=90, anchor=base, inner sep=0] at (0.80,7.34) {\ttl Neutrophil};
\node[rotate=90, anchor=base, inner sep=0] at (14.25,7.07) {\ttl Macrophage};
\node[rotate=90, anchor=base, inner sep=0] at (27.86,6.72) {\ttl Myeloid dendritic cell};
\end{tikzpicture}
\end{document}
